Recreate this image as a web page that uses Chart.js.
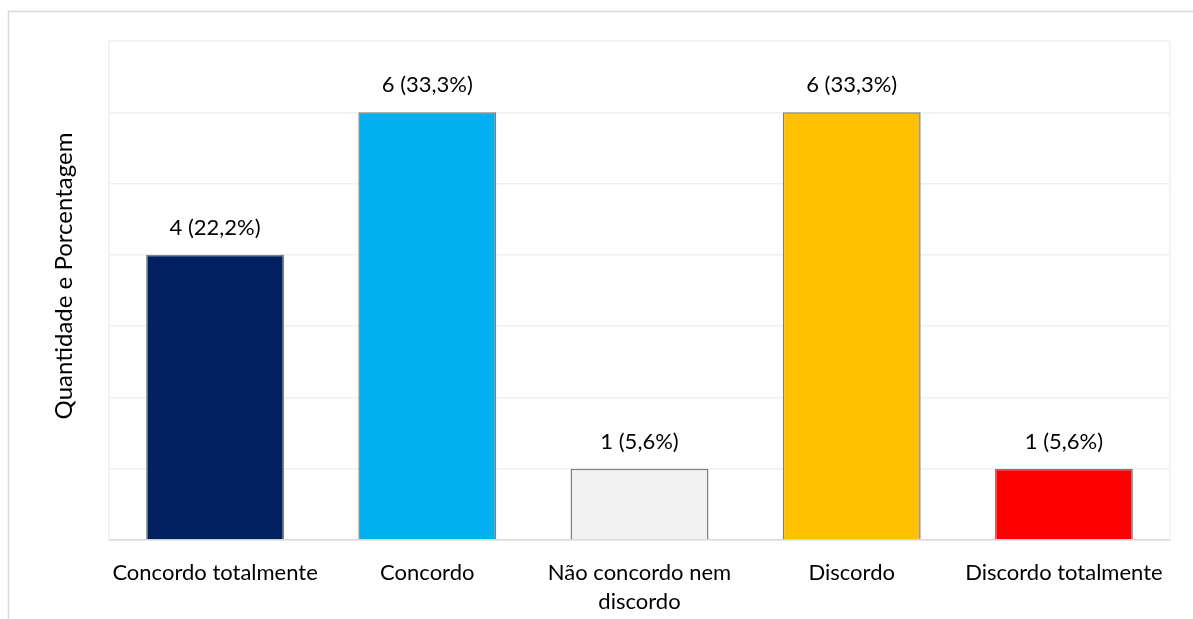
<!DOCTYPE html>
<html lang="pt">
<head>
<meta charset="utf-8">
<title>Quantidade e Porcentagem</title>
<script src="https://cdn.jsdelivr.net/npm/chart.js@4/dist/chart.umd.min.js"></script>
<style>
  html, body { margin: 0; padding: 0; background: #fff; }
  #wrap { width: 1193px; height: 619px; position: relative; }
</style>
</head>
<body>
<div id="wrap"><canvas id="chart" width="1193" height="619"></canvas></div>
<script>
// Respostas da escala Likert
const CATEGORIES = [
  "Concordo totalmente",
  "Concordo",
  ["Não concordo nem", "discordo"],
  "Discordo",
  "Discordo totalmente",
];
const COUNTS = [4, 6, 1, 6, 1];
const COLORS = ["#002060", "#00b0f0", "#f2f2f2", "#ffc000", "#ff0000"];
const Y_MAX = 7;
const Y_TITLE = "Quantidade e Porcentagem";

const FONT = "Lato, 'Open Sans', sans-serif";
const TOTAL = COUNTS.reduce((a, b) => a + b, 0);
const fmtLabel = (v) => `${v} (${(v / TOTAL * 100).toFixed(1).replace(".", ",")}%)`;

// frame, right edge, axis title and value labels
const decorations = {
  id: "decorations",
  afterDraw(chart) {
    const { ctx, chartArea: a } = chart;
    ctx.save();
    ctx.strokeStyle = "#d9d9d9";
    ctx.lineWidth = 1.5;
    ctx.beginPath();
    ctx.moveTo(8.5, chart.height);
    ctx.lineTo(8.5, 11.5);
    ctx.lineTo(chart.width, 11.5);
    ctx.stroke();

    ctx.strokeStyle = "#f0f0f0";
    ctx.beginPath();
    ctx.moveTo(a.right, a.top);
    ctx.lineTo(a.right, a.bottom);
    ctx.stroke();

    ctx.fillStyle = "#000";
    ctx.font = `24px ${FONT}`;
    ctx.textAlign = "center";
    ctx.textBaseline = "middle";
    ctx.translate(64, 276);
    ctx.rotate(-Math.PI / 2);
    ctx.fillText(Y_TITLE, 0, 0);
    ctx.restore();

    ctx.save();
    ctx.fillStyle = "#000";
    ctx.font = `22px ${FONT}`;
    ctx.textAlign = "center";
    ctx.textBaseline = "middle";
    chart.getDatasetMeta(0).data.forEach((bar, i) => {
      ctx.fillText(fmtLabel(COUNTS[i]), bar.x, bar.y - 27);
    });
    ctx.restore();
  },
};

new Chart(document.getElementById("chart"), {
  type: "bar",
  data: {
    labels: CATEGORIES,
    datasets: [{
      data: COUNTS,
      backgroundColor: COLORS,
      borderColor: "#7f7f7f",
      borderWidth: 1.5,
      categoryPercentage: 0.65,
      barPercentage: 1,
    }],
  },
  options: {
    responsive: false,
    animation: false,
    layout: { padding: { left: 0, top: 41, right: 23, bottom: 0 } },
    plugins: { legend: { display: false }, tooltip: { enabled: false } },
    scales: {
      x: {
        grid: { display: false },
        border: { color: "#d9d9d9", width: 1.5 },
        ticks: { color: "#000", font: { family: FONT, size: 22, lineHeight: 1.3 }, padding: 11, maxRotation: 0, autoSkip: false },
        afterFit: (s) => { s.height = 79; },
      },
      y: {
        min: 0, max: Y_MAX,
        ticks: { display: false, stepSize: 1 },
        grid: { color: "#f0f0f0", lineWidth: 1.5, drawTicks: false },
        border: { color: "#f0f0f0", width: 1.5 },
        afterFit: (s) => { s.width = 109; },
      },
    },
  },
  plugins: [decorations],
});
</script>
</body>
</html>
